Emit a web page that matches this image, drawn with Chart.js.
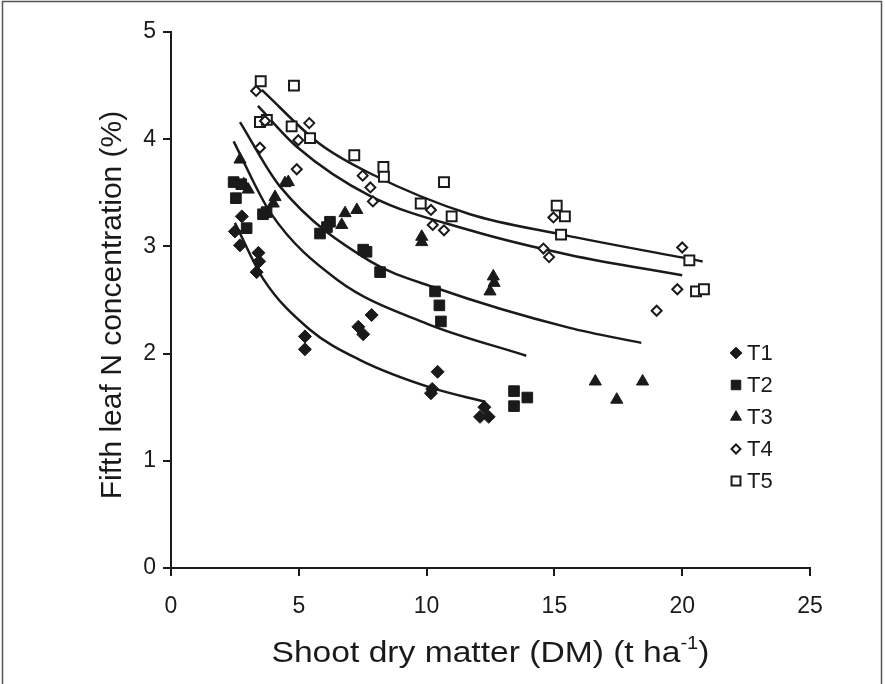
<!DOCTYPE html>
<html>
<head>
<meta charset="utf-8">
<title>Fifth leaf N concentration vs shoot dry matter</title>
<script src="https://cdn.jsdelivr.net/npm/chart.js@4/dist/chart.umd.min.js"></script>
<style>
    html, body { margin: 0; padding: 0; background: #ffffff; }
    #chart { display: block; }
</style>
</head>
<body>
<canvas id="chart" width="885" height="684"></canvas>
<script>
// Valores (DM em t/ha, N em %)
var t1X = [2.77, 2.5, 2.7, 3.42, 3.45, 3.35, 5.24, 5.24, 7.85, 7.33, 7.52, 10.43, 10.22, 10.17, 12.26, 12.09, 12.43];
var t1Y = [3.28, 3.14, 3.01, 2.94, 2.86, 2.76, 2.16, 2.04, 2.36, 2.25, 2.18, 1.83, 1.67, 1.63, 1.50, 1.41, 1.41];

var t2X = [2.45, 2.75, 2.54, 2.96, 3.74, 3.6, 5.83, 6.22, 6.1, 7.52, 7.65, 8.18, 10.33, 10.5, 10.56, 13.42, 13.42, 13.94];
var t2Y = [3.60, 3.58, 3.45, 3.17, 3.32, 3.30, 3.12, 3.23, 3.18, 2.97, 2.95, 2.76, 2.58, 2.45, 2.30, 1.65, 1.51, 1.59];

var t3X = [2.70, 3.02, 2.85, 4.07, 4.0, 4.46, 4.59, 6.81, 7.27, 6.68, 9.81, 9.81, 12.61, 12.64, 12.48, 16.6, 17.44, 18.45];
var t3Y = [3.81, 3.53, 3.58, 3.46, 3.40, 3.59, 3.60, 3.31, 3.34, 3.20, 3.09, 3.04, 2.72, 2.66, 2.58, 1.74, 1.57, 1.74];

var t4X = [3.33, 3.48, 3.68, 4.92, 4.98, 5.41, 7.5, 7.8, 7.9, 10.17, 10.24, 10.68, 14.57, 14.79, 14.96, 20.0, 19.81, 19.0];
var t4Y = [4.45, 3.92, 4.17, 3.72, 3.99, 4.15, 3.66, 3.55, 3.42, 3.34, 3.20, 3.15, 2.98, 2.90, 3.27, 2.99, 2.60, 2.40];

var t5X = [3.51, 4.81, 3.48, 3.75, 4.72, 5.44, 7.17, 8.31, 8.33, 10.68, 9.77, 10.98, 15.09, 15.41, 15.26, 20.28, 20.54, 20.85];
var t5Y = [4.54, 4.50, 4.16, 4.18, 4.12, 4.01, 3.85, 3.74, 3.65, 3.60, 3.40, 3.28, 3.38, 3.28, 3.11, 2.87, 2.58, 2.60];

// Curvas ajustadas (pontos lidos ao longo de cada linha)
var fit1X = [2.5, 3.6, 5.4, 7.4, 10.2, 12.3];
var fit1Y = [3.22, 2.70, 2.23, 1.94, 1.68, 1.55];
var fit2X = [2.45, 3.9, 6.5, 10.0, 13.9];
var fit2Y = [3.98, 3.31, 2.69, 2.28, 1.98];
var fit3X = [2.7, 4.26, 7.8, 10.4, 15.6, 18.4];
var fit3Y = [4.16, 3.56, 2.86, 2.61, 2.24, 2.10];
var fit4X = [3.4, 4.92, 7.8, 11.7, 15.6, 20.0];
var fit4Y = [4.31, 3.93, 3.47, 3.15, 2.92, 2.73];
var fit5X = [3.55, 5.8, 7.8, 11.7, 15.3, 20.8];
var fit5Y = [4.46, 3.96, 3.68, 3.30, 3.11, 2.86];

var seriesNames = ['T1', 'T2', 'T3', 'T4', 'T5'];
var xTicks = [0, 5, 10, 15, 20, 25];
var yTicks = [0, 1, 2, 3, 4, 5];

var xTitle = 'Shoot dry matter (DM) (t ha';
var xTitleSup = '-1';
var yTitle = 'Fifth leaf N concentration (%)';

(function() {
    'use strict';

    var FONT = '"Liberation Sans", Arial, sans-serif';
    var INK = '#1a1a1a';

    function pairs(xs, ys) {
        return xs.map(function(x, i) { return { x: x, y: ys[i] }; });
    }

    // Estilo dos marcadores de cada tratamento
    var markers = [
        { pointStyle: 'rectRot', radius: 6.5, fill: INK, border: INK, width: 1 },
        { pointStyle: 'rect', radius: 7.5, fill: INK, border: INK, width: 1 },
        { pointStyle: 'triangle', radius: 7, fill: INK, border: INK, width: 1 },
        { pointStyle: 'rectRot', radius: 5, fill: '#ffffff', border: INK, width: 2 },
        { pointStyle: 'rect', radius: 7, fill: '#ffffff', border: INK, width: 2 }
    ];

    var pointSets = [[t1X, t1Y], [t2X, t2Y], [t3X, t3Y], [t4X, t4Y], [t5X, t5Y]];
    var fitSets = [[fit1X, fit1Y], [fit2X, fit2Y], [fit3X, fit3Y], [fit4X, fit4Y], [fit5X, fit5Y]];

    var datasets = [];
    fitSets.forEach(function(f, i) {
        datasets.push({
            label: 'fit ' + seriesNames[i],
            data: pairs(f[0], f[1]),
            showLine: true,
            borderColor: INK,
            borderWidth: 2.5,
            pointRadius: 0,
            cubicInterpolationMode: 'monotone',
            fill: false,
            order: 2
        });
    });
    pointSets.forEach(function(p, i) {
        var m = markers[i];
        datasets.push({
            label: seriesNames[i],
            data: pairs(p[0], p[1]),
            showLine: false,
            pointStyle: m.pointStyle,
            pointRadius: m.radius,
            pointBackgroundColor: m.fill,
            pointBorderColor: m.border,
            pointBorderWidth: m.width,
            order: 1
        });
    });

    /**
     * Moldura, títulos dos eixos e legenda desenhados à mão
     */
    var decorPlugin = {
        id: 'decor',
        afterDraw: function(chart) {
            var ctx = chart.ctx;
            var area = chart.chartArea;
            ctx.save();

            // moldura externa
            ctx.strokeStyle = '#555555';
            ctx.lineWidth = 1.5;
            ctx.strokeRect(2.5, 1.5, 879, 720);

            ctx.fillStyle = INK;

            // título do eixo Y
            ctx.font = '30px ' + FONT;
            ctx.textAlign = 'center';
            ctx.textBaseline = 'middle';
            ctx.save();
            ctx.translate(113, (area.top + area.bottom) / 2 + 5);
            ctx.rotate(-Math.PI / 2);
            ctx.fillText(yTitle, 0, 0);
            ctx.restore();

            // título do eixo X com sobrescrito (levemente alargado, como no original)
            var stretch = 1.12;
            ctx.font = '30px ' + FONT;
            var mainW = ctx.measureText(xTitle).width;
            ctx.font = '18px ' + FONT;
            var supW = ctx.measureText(xTitleSup).width;
            ctx.font = '30px ' + FONT;
            var closeW = ctx.measureText(')').width;
            var total = (mainW + supW + closeW) * stretch;
            var baseY = 662;
            ctx.save();
            ctx.translate((area.left + area.right) / 2 - total / 2, baseY);
            ctx.scale(stretch, 1);
            ctx.textAlign = 'left';
            ctx.textBaseline = 'alphabetic';
            ctx.fillText(xTitle, 0, 0);
            ctx.font = '18px ' + FONT;
            ctx.fillText(xTitleSup, mainW, -13);
            ctx.font = '30px ' + FONT;
            ctx.fillText(')', mainW + supW, 0);
            ctx.restore();

            // legenda
            var legX = 736;
            var legY = 353;
            var step = 32;
            ctx.font = '22px ' + FONT;
            ctx.textAlign = 'left';
            ctx.textBaseline = 'middle';
            seriesNames.forEach(function(name, i) {
                var m = markers[i];
                var y = legY + i * step;
                ctx.fillStyle = m.fill;
                ctx.strokeStyle = m.border;
                ctx.lineWidth = m.width;
                Chart.helpers.drawPoint(ctx, {
                    pointStyle: m.pointStyle,
                    radius: m.radius * 0.9,
                    borderWidth: m.width,
                    rotation: 0
                }, legX, y);
                ctx.fillStyle = INK;
                ctx.fillText(name, legX + 11, y + 1);
            });

            ctx.restore();
        }
    };

    new Chart(document.getElementById('chart').getContext('2d'), {
        type: 'scatter',
        data: { datasets: datasets },
        plugins: [decorPlugin],
        options: {
            responsive: false,
            animation: false,
            devicePixelRatio: 1,
            layout: {
                padding: { top: 32, right: 75, bottom: 0, left: 0 }
            },
            plugins: {
                legend: { display: false },
                tooltip: { enabled: false }
            },
            scales: {
                x: {
                    type: 'linear',
                    min: 0,
                    max: 25,
                    afterBuildTicks: function(scale) {
                        scale.ticks = xTicks.map(function(v) { return { value: v }; });
                    },
                    afterFit: function(scale) { scale.height = 116; },
                    grid: {
                        drawOnChartArea: false,
                        drawTicks: true,
                        tickLength: 8,
                        color: INK,
                        lineWidth: 2
                    },
                    border: { color: INK, width: 2 },
                    ticks: {
                        color: INK,
                        padding: 17,
                        maxRotation: 0,
                        font: { family: FONT, size: 23 }
                    }
                },
                y: {
                    type: 'linear',
                    min: 0,
                    max: 5,
                    afterBuildTicks: function(scale) {
                        scale.ticks = yTicks.map(function(v) { return { value: v }; });
                    },
                    afterFit: function(scale) { scale.width = 171; },
                    grid: {
                        drawOnChartArea: false,
                        drawTicks: true,
                        tickLength: 8,
                        color: INK,
                        lineWidth: 2
                    },
                    border: { color: INK, width: 2 },
                    ticks: {
                        color: INK,
                        padding: 7,
                        font: { family: FONT, size: 23 }
                    }
                }
            }
        }
    });
})();
</script>
</body>
</html>
